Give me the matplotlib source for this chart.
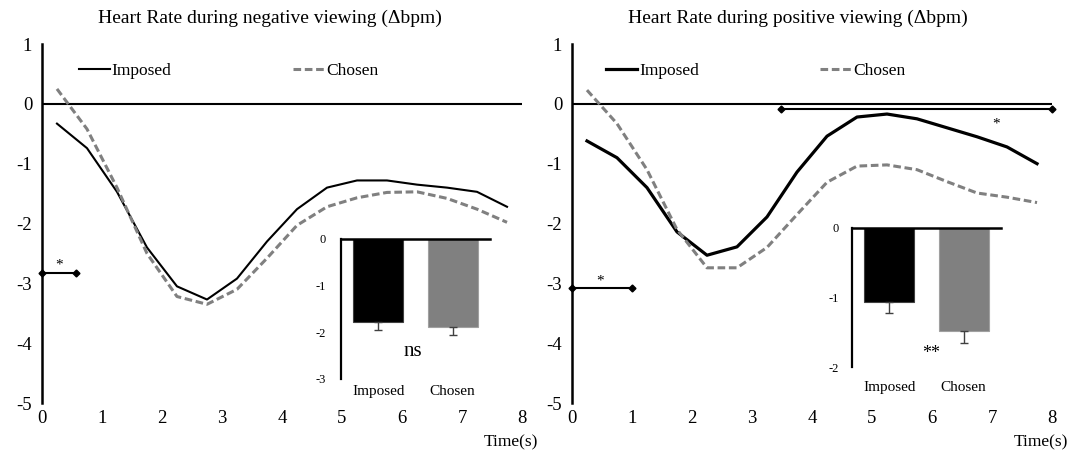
import matplotlib
matplotlib.use('Agg')
from matplotlib import pyplot as plt
import numpy as np

plt.rcParams['font.family'] = ['Liberation Serif', 'DejaVu Serif']
plt.rcParams['axes.unicode_minus'] = False

# time points (s)
t = np.arange(0.25, 8.0, 0.5)

# negative viewing
neg_imposed = [-0.33, -0.74, -1.47, -2.40, -3.05, -3.27, -2.92, -2.30, -1.76, -1.40,
               -1.28, -1.28, -1.35, -1.40, -1.47, -1.72]
neg_chosen = [0.25, -0.42, -1.40, -2.50, -3.22, -3.35, -3.10, -2.58, -2.03, -1.72,
              -1.57, -1.48, -1.47, -1.58, -1.76, -1.98]
# positive viewing
pos_imposed = [-0.62, -0.90, -1.40, -2.14, -2.53, -2.39, -1.89, -1.14, -0.54, -0.22,
               -0.17, -0.25, -0.40, -0.55, -0.72, -1.00]
pos_chosen = [0.23, -0.33, -1.10, -2.10, -2.74, -2.74, -2.40, -1.85, -1.31, -1.04,
              -1.02, -1.10, -1.30, -1.49, -1.56, -1.65]

# significance windows
neg_sig_t = [0, 0.56]
neg_sig_y = -2.83
pos_sig1_t = [0, 1.0]
pos_sig1_y = -3.07
pos_sig2_t = [3.48, 8.0]
pos_sig2_y = -0.09

# inset bars (mean, lower error)
groups = ['Imposed', 'Chosen']
neg_bar = [-1.78, -1.88]
neg_err = [0.17, 0.18]
pos_bar = [-1.07, -1.48]
pos_err = [0.16, 0.18]

fig = plt.figure(figsize=(10.79, 4.54), dpi=100)
ax1 = fig.add_axes([0.0389, 0.1123, 0.4449, 0.7907])
ax2 = fig.add_axes([0.5301, 0.1123, 0.4449, 0.7907])


def setup_main(ax):
    ax.set_xlim(0, 8)
    ax.set_ylim(-5, 1)
    for s in ['top', 'right', 'bottom']:
        ax.spines[s].set_visible(False)
    ax.spines['left'].set_linewidth(1.8)
    ax.axhline(0, color='black', lw=1.5, zorder=1)
    ax.set_xticks(range(9))
    ax.set_yticks(range(-5, 2))
    ax.tick_params(axis='x', length=0, labelsize=13.5, pad=5)
    ax.tick_params(axis='y', length=0, labelsize=13.5, pad=7)
    ax.patch.set_alpha(0)


setup_main(ax1)
setup_main(ax2)

ax1.plot(t, neg_imposed, color='black', lw=1.5, label='Imposed')
ax1.plot(t, neg_chosen, color='#808080', lw=2.2, dashes=(2.5, 1.2), label='Chosen')
ax2.plot(t, pos_imposed, color='black', lw=2.3, label='Imposed')
ax2.plot(t, pos_chosen, color='#808080', lw=2.2, dashes=(2.5, 1.2), label='Chosen')

ax1.plot(neg_sig_t, [neg_sig_y] * 2, color='black', lw=1.5, marker='D', ms=3.5, clip_on=False)
ax1.text(np.mean(neg_sig_t), neg_sig_y + 0.02, '*', ha='center', va='bottom', fontsize=11)
ax2.plot(pos_sig1_t, [pos_sig1_y] * 2, color='black', lw=1.5, marker='D', ms=3.5, clip_on=False)
ax2.text(np.mean(pos_sig1_t) - 0.04, pos_sig1_y + 0.0, '*', ha='center', va='bottom', fontsize=11)
ax2.plot(pos_sig2_t, [pos_sig2_y] * 2, color='black', lw=1.5, marker='D', ms=3.5, clip_on=False)
ax2.text(7.07, pos_sig2_y - 0.14, '*', ha='center', va='top', fontsize=11)

for ax, x0 in [(ax1, 0.0765), (ax2, 0.0708)]:
    ax.legend(loc='center left', bbox_to_anchor=(x0, 0.926), ncol=2, frameon=False,
              borderpad=0, borderaxespad=0, handlelength=1.8, handletextpad=0.1,
              columnspacing=7.0, fontsize=12.5)
    ax.text(0.976, -0.111, 'Time(s)', transform=ax.transAxes, ha='center', va='center',
            fontsize=12.5)

fig.text(270 / 1079, 1 - 18 / 454, 'Heart Rate during negative viewing (\u0394bpm)',
         ha='center', va='center', fontsize=14)
fig.text(798 / 1079, 1 - 18 / 454, 'Heart Rate during positive viewing (\u0394bpm)',
         ha='center', va='center', fontsize=14)

# insets
in1 = fig.add_axes([0.316, 0.1652, 0.1381, 0.3084])
in2 = fig.add_axes([0.7896, 0.1916, 0.1381, 0.3062])


def setup_inset(ax, vals, errs, ymin, xpad, ypad):
    x = np.arange(len(groups))
    ax.bar(x, vals, width=0.67, color=['black', '#808080'],
           edgecolor=['#404040', '#a0a0a0'], lw=0.8, zorder=2)
    ax.errorbar(x, vals, yerr=[errs, [0] * len(errs)], fmt='none', ecolor='#404040',
                elinewidth=1, capsize=3, capthick=1, zorder=3)
    ax.set_xlim(-0.5, 1.5)
    ax.set_ylim(ymin, 0)
    for s in ['top', 'right', 'bottom']:
        ax.spines[s].set_visible(False)
    ax.spines['left'].set_linewidth(1.6)
    ax.axhline(0, color='black', lw=1.8, zorder=4, clip_on=False)
    ax.set_xticks(x)
    ax.set_xticklabels(groups)
    ax.set_yticks(range(ymin, 1))
    ax.tick_params(axis='x', length=0, labelsize=11, pad=xpad)
    ax.tick_params(axis='y', length=0, labelsize=9, pad=ypad)


setup_inset(in1, neg_bar, neg_err, -3, 4.3, 11)
setup_inset(in2, pos_bar, pos_err, -2, 10, 9.5)
in1.text(0.46, -2.42, 'ns', ha='center', va='center', fontsize=15)
in2.text(0.56, -1.81, '**', ha='center', va='center', fontsize=13)

fig.savefig('out.png', dpi=100)
